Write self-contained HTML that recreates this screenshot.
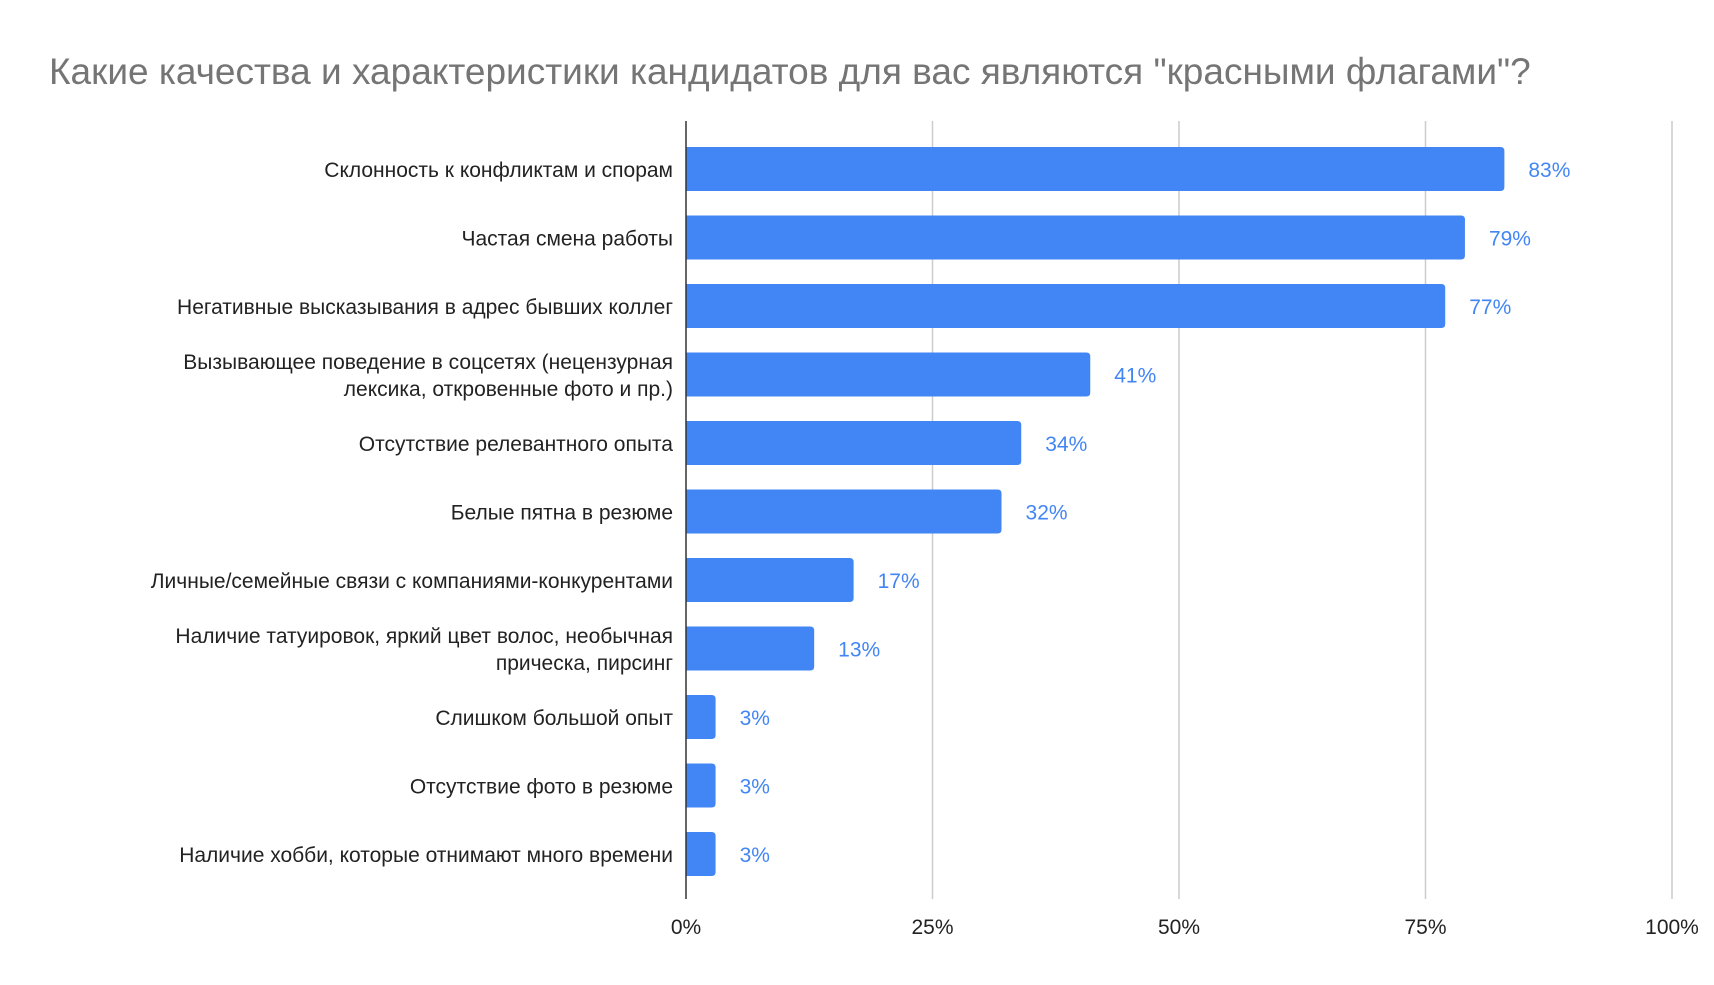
<!DOCTYPE html>
<html><head><meta charset="utf-8"><style>
body{margin:0;background:#fff;}
svg text{font-family:"Liberation Sans",Arial,sans-serif;}
</style></head><body>
<svg id="chart" width="1714" height="980" xmlns="http://www.w3.org/2000/svg">
<rect width="1714" height="980" fill="#fff"/>
<text x="49" y="84" font-size="37" fill="#757575">Какие качества и характеристики кандидатов для вас являются "красными флагами"?</text>
<g id="grid"></g><g id="bars"></g><g id="labels"></g>
</svg>
<script>
const categories=[["Склонность к конфликтам и спорам"],["Частая смена работы"],["Негативные высказывания в адрес бывших коллег"],["Вызывающее поведение в соцсетях (нецензурная","лексика, откровенные фото и пр.)"],["Отсутствие релевантного опыта"],["Белые пятна в резюме"],["Личные/семейные связи с компаниями-конкурентами"],["Наличие татуировок, яркий цвет волос, необычная","прическа, пирсинг"],["Слишком большой опыт"],["Отсутствие фото в резюме"],["Наличие хобби, которые отнимают много времени"]];
const values=[83,79,77,41,34,32,17,13,3,3,3];
const tickValues=[0,25,50,75,100];
const tickLabels=["0%","25%","50%","75%","100%"];
const NS="http://www.w3.org/2000/svg";
const x0=686,x1=1672,yTop=121,yBot=899,firstC=169,step=68.5,bh=44;
const xs=v=>x0+(x1-x0)*v/100;
const yc=i=>firstC+i*step;
function mk(t,a,p){const e=document.createElementNS(NS,t);for(const k in a)e.setAttribute(k,a[k]);p.appendChild(e);return e;}
const grid=document.getElementById('grid'),bars=document.getElementById('bars'),labels=document.getElementById('labels');
tickValues.forEach((v,i)=>{
  if(v>0){const g=mk('line',{x1:xs(v),x2:xs(v),y1:yTop,y2:yBot,stroke:'#cccccc','stroke-width':1.5},grid);
  
  }
  const t=mk('text',{x:xs(v),y:934,'font-size':21,'text-anchor':'middle',fill:'#222'},labels);
  t.textContent=tickLabels[i];
  
  
});
values.forEach((v,i)=>{
  const c=yc(i),w=xs(v)-x0,r=4;
  const p=mk('path',{d:`M${x0},${c-bh/2} H${x0+w-r} Q${x0+w},${c-bh/2} ${x0+w},${c-bh/2+r} V${c+bh/2-r} Q${x0+w},${c+bh/2} ${x0+w-r},${c+bh/2} H${x0} Z`,fill:'#4285f4'},bars);
  
  
  const vl=mk('text',{x:xs(v)+24,y:c+8,'font-size':21,fill:'#4285f4'},labels);
  vl.textContent=v+'%';
  
  
  const lines=categories[i];
  lines.forEach((s,j)=>{
    const ty=c+8+(j-(lines.length-1)/2)*27;
    const t=mk('text',{x:673,y:ty,'font-size':21,'text-anchor':'end',fill:'#222'},labels);
    t.textContent=s;
    
    
  });
});
const ax=mk('line',{x1:x0,x2:x0,y1:yTop,y2:yBot,stroke:'#333','stroke-width':1.5},bars);


</script>
</body></html>
